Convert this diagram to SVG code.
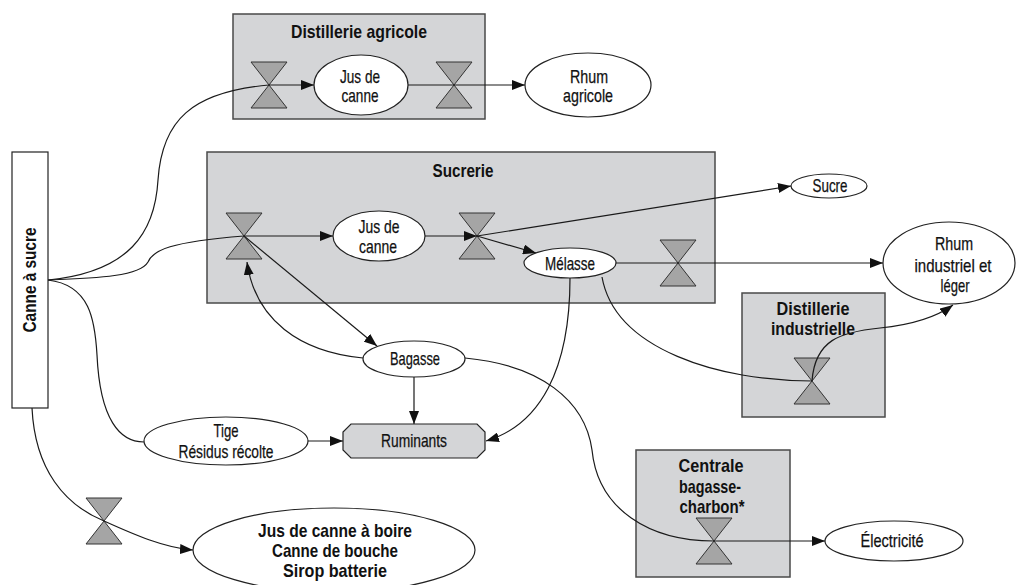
<svg xmlns="http://www.w3.org/2000/svg" xmlns:xlink="http://www.w3.org/1999/xlink" width="1017" height="585" viewBox="0 0 1017 585">
<style>
.box{fill:#d4d5d7;stroke:#4a4a4a;stroke-width:1.5}
.hg polygon{fill:#a5a5a5;stroke:#333;stroke-width:1}
.el{fill:#fff;stroke:#222;stroke-width:1.2}
.oct{fill:#d4d5d7;stroke:#222;stroke-width:1.2}
.rect{fill:#fff;stroke:#222;stroke-width:1.2}
.c{fill:none;stroke:#1a1a1a;stroke-width:1.2}
.a{marker-end:url(#ar)}
text{font-family:"Liberation Sans Narrow","Liberation Sans",Arial,sans-serif;font-size:19px;fill:#111;text-anchor:middle;stroke:#111;stroke-width:0.25}
.b{font-weight:bold;stroke-width:0}
</style>
<defs>
<marker id="ar" viewBox="0 0 13 10" refX="13" refY="5" markerWidth="13" markerHeight="10" markerUnits="userSpaceOnUse" orient="auto"><path d="M0,0 L13,5 L0,10 z" fill="#111"/></marker>
<g id="hg" class="hg"><polygon points="-18,-23 18,-23 0,0"/><polygon points="-18,23 18,23 0,0"/></g>
</defs>

<g id="distillerie-agricole">
<rect class="box" x="233" y="14" width="252" height="105"/>
<text class="b" x="359" y="38" textLength="136" lengthAdjust="spacingAndGlyphs">Distillerie agricole</text>
<use xlink:href="#hg" x="269" y="85"/>
<use xlink:href="#hg" x="454" y="85"/>
</g>
<g id="sucrerie">
<rect class="box" x="207" y="152" width="508" height="151"/>
<text class="b" x="463" y="177" textLength="61" lengthAdjust="spacingAndGlyphs">Sucrerie</text>
<use xlink:href="#hg" x="244" y="236"/>
<use xlink:href="#hg" x="477" y="236"/>
<use xlink:href="#hg" x="678" y="263"/>
</g>
<g id="distillerie-industrielle">
<rect class="box" x="742" y="293" width="143" height="124"/>
<text class="b" x="813" y="315" textLength="73" lengthAdjust="spacingAndGlyphs">Distillerie</text>
<text class="b" x="813" y="335" textLength="84" lengthAdjust="spacingAndGlyphs">industrielle</text>
<use xlink:href="#hg" x="812" y="381"/>
</g>
<g id="centrale">
<rect class="box" x="636" y="450" width="154" height="127"/>
<text class="b" x="711" y="472" textLength="65" lengthAdjust="spacingAndGlyphs">Centrale</text>
<text class="b" x="710" y="493" textLength="62" lengthAdjust="spacingAndGlyphs">bagasse-</text>
<text class="b" x="712" y="513" textLength="65" lengthAdjust="spacingAndGlyphs">charbon*</text>
<use xlink:href="#hg" x="714" y="541"/>
</g>
<g id="valve-boire">
<use xlink:href="#hg" x="104" y="521"/>
</g>

<g id="connectors">
<path class="c" d="M48,280 C130,272 155,232 158,180 C162,120 192,92 269,85"/>
<path class="c a" d="M269,85 L314,85"/>
<path class="c a" d="M408,85 L525,85"/>
<path class="c" d="M48,280 C100,278 140,276 148,262 C153,250 170,242 244,236"/>
<path class="c a" d="M244,236 L333,236"/>
<path class="c a" d="M425,236 L477,236"/>
<path class="c a" d="M477,236 L791,186"/>
<path class="c a" d="M477,236 L536,253"/>
<path class="c a" d="M615,263 L883,263"/>
<path class="c a" d="M244,236 L377,346"/>
<path class="c a" d="M363,358 C300,352 255,320 247,262"/>
<path class="c a" d="M414,377 L414,424"/>
<path class="c a" d="M307,441 L343,441"/>
<path class="c a" d="M570,278 C570,370 540,425 486,441"/>
<path class="c" d="M602,277 C615,350 720,381 812,381"/>
<path class="c a" d="M812,381 C815,340 840,332 880,328 C910,325 935,318 953,305"/>
<path class="c" d="M465,358 C540,365 585,400 592,450 C598,510 650,541 714,541"/>
<path class="c a" d="M714,541 L825,541"/>
<path class="c" d="M48,280 C90,285 95,320 97,355 C100,420 120,442 144,442"/>
<path class="c a" d="M32,408 C35,470 65,505 104,521 C135,535 165,548 193,550"/>
</g>

<g id="canne-a-sucre">
<rect class="rect" x="12" y="152" width="36" height="256"/>
<text class="b" transform="translate(36,280) rotate(-90)" x="0" y="0" textLength="105" lengthAdjust="spacingAndGlyphs">Canne à sucre</text>
</g>
<g id="jus-agricole">
<ellipse class="el" cx="361" cy="85" rx="47" ry="30"/>
<text x="360" y="83" textLength="40" lengthAdjust="spacingAndGlyphs">Jus de</text>
<text x="360" y="102" textLength="37" lengthAdjust="spacingAndGlyphs">canne</text>
</g>
<g id="rhum-agricole">
<ellipse class="el" cx="588" cy="85" rx="63" ry="32"/>
<text x="589" y="83" textLength="38" lengthAdjust="spacingAndGlyphs">Rhum</text>
<text x="588" y="102" textLength="50" lengthAdjust="spacingAndGlyphs">agricole</text>
</g>
<g id="jus-sucrerie">
<ellipse class="el" cx="379" cy="236" rx="46" ry="25"/>
<text x="379" y="233" textLength="41" lengthAdjust="spacingAndGlyphs">Jus de</text>
<text x="378" y="253" textLength="38" lengthAdjust="spacingAndGlyphs">canne</text>
</g>
<g id="melasse">
<ellipse class="el" cx="570" cy="263" rx="46" ry="15"/>
<text x="570" y="270" textLength="50" lengthAdjust="spacingAndGlyphs">Mélasse</text>
</g>
<g id="sucre">
<ellipse class="el" cx="829" cy="186" rx="38" ry="12"/>
<text x="830" y="192" textLength="35" lengthAdjust="spacingAndGlyphs">Sucre</text>
</g>
<g id="rhum-industriel">
<ellipse class="el" cx="949" cy="263" rx="66" ry="41"/>
<text x="954" y="250" textLength="38" lengthAdjust="spacingAndGlyphs">Rhum</text>
<text x="953" y="272" textLength="77" lengthAdjust="spacingAndGlyphs">industriel et</text>
<text x="955" y="292" textLength="29" lengthAdjust="spacingAndGlyphs">léger</text>
</g>
<g id="bagasse">
<ellipse class="el" cx="414" cy="359" rx="51" ry="18"/>
<text x="415" y="365" textLength="50" lengthAdjust="spacingAndGlyphs">Bagasse</text>
</g>
<g id="ruminants">
<polygon class="oct" points="351,424 477,424 485,432 485,450 477,458 351,458 343,450 343,432"/>
<text x="414" y="447" textLength="66" lengthAdjust="spacingAndGlyphs">Ruminants</text>
</g>
<g id="tige">
<ellipse class="el" cx="226" cy="441" rx="82" ry="24"/>
<text x="226" y="437" textLength="25" lengthAdjust="spacingAndGlyphs">Tige</text>
<text x="226" y="458" textLength="95" lengthAdjust="spacingAndGlyphs">Résidus récolte</text>
</g>
<g id="jus-boire">
<ellipse class="el" cx="334" cy="550" rx="141" ry="42"/>
<text class="b" x="335" y="537" textLength="154" lengthAdjust="spacingAndGlyphs">Jus de canne à boire</text>
<text class="b" x="335" y="557" textLength="126" lengthAdjust="spacingAndGlyphs">Canne de bouche</text>
<text class="b" x="335" y="577" textLength="104" lengthAdjust="spacingAndGlyphs">Sirop batterie</text>
</g>
<g id="electricite">
<ellipse class="el" cx="894" cy="541" rx="69" ry="20"/>
<text x="892" y="547" textLength="63" lengthAdjust="spacingAndGlyphs">Électricité</text>
</g>
</svg>
